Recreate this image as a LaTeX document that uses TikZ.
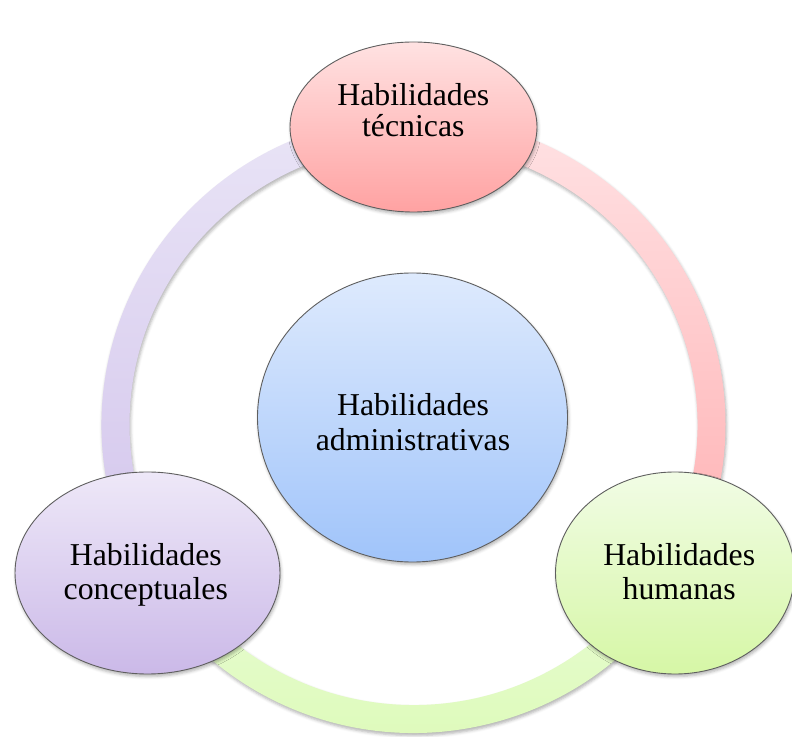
\documentclass[tikz,border=0pt]{standalone}
\usepackage{fontspec}
\setmainfont{Liberation Serif}
\usetikzlibrary{shapes.geometric,shadows.blur,calc}
\definecolor{tecTop}{RGB}{255,226,226}
\definecolor{tecBot}{RGB}{255,162,162}
\definecolor{admTop}{RGB}{222,234,253}
\definecolor{admBot}{RGB}{160,196,250}
\definecolor{conTop}{RGB}{238,232,248}
\definecolor{conBot}{RGB}{203,185,232}
\definecolor{humTop}{RGB}{241,252,229}
\definecolor{humBot}{RGB}{214,247,166}
\definecolor{pinkTop}{RGB}{255,226,228}
\definecolor{pinkBot}{RGB}{255,176,178}
\definecolor{greenTop}{RGB}{232,252,212}
\definecolor{greenBot}{RGB}{220,250,182}
\definecolor{lavTop}{RGB}{233,228,246}
\definecolor{lavBot}{RGB}{211,197,236}
\definecolor{edge}{RGB}{95,95,95}
\tikzset{
  softshadow/.style={blur shadow={shadow xshift=1pt, shadow yshift=-2.5pt, shadow blur radius=3pt, shadow opacity=30}},
  ell/.style={ellipse, draw=edge, line width=0.9pt, inner sep=0pt, softshadow},
  lbl/.style={anchor=base, inner sep=0pt, font=\fontsize{31.8}{34}\selectfont}
}
\begin{document}
\begin{tikzpicture}[x=1pt,y=1pt]
\useasboundingbox (0,0) rectangle (792,736);
\clip (0,0) rectangle (792,736);
\coordinate (rc) at (413.5,311.5);
% ring segments
\path[softshadow, top color=pinkTop, bottom color=pinkBot]
  ($(rc)+(90:312 and 308.5)$) arc[start angle=90, end angle=-30, x radius=312, y radius=308.5]
  -- ++(150:28) arc[start angle=-30, end angle=90, x radius=284, y radius=280.5] -- cycle;
\path[softshadow, top color=greenTop, bottom color=greenBot]
  ($(rc)+(-30:312 and 308.5)$) arc[start angle=-30, end angle=-150, x radius=312, y radius=308.5]
  -- ++(30:28) arc[start angle=-150, end angle=-30, x radius=284, y radius=280.5] -- cycle;
\path[softshadow, top color=lavTop, bottom color=lavBot]
  ($(rc)+(210:312 and 308.5)$) arc[start angle=210, end angle=90, x radius=312, y radius=308.5]
  -- ++(270:28) arc[start angle=90, end angle=210, x radius=284, y radius=280.5] -- cycle;
% ellipses
\node[ell, minimum width=310pt, minimum height=289pt, top color=admTop, bottom color=admBot] (adm) at (412.5,318.5) {};
\node[ell, minimum width=247pt, minimum height=170pt, top color=tecTop, bottom color=tecBot] (tec) at (413.5,609) {};
\node[ell, minimum width=265pt, minimum height=202pt, top color=conTop, bottom color=conBot] (con) at (147.5,163) {};
\node[ell, minimum width=239pt, minimum height=202pt, top color=humTop, bottom color=humBot] (hum) at (675,163) {};
% labels
\node[lbl] (tec1) at (413.3,630) {Habilidades};
\node[lbl] (tec2) at (413.3,599) {técnicas};
\node[lbl] (adm1) at (413,320) {Habilidades};
\node[lbl] (adm2) at (413,285) {administrativas};
\node[lbl] (con1) at (145.8,170) {Habilidades};
\node[lbl] (con2) at (145.8,136.7) {conceptuales};
\node[lbl] (hum1) at (679.2,170) {Habilidades};
\node[lbl] (hum2) at (679.2,136) {humanas};
\end{tikzpicture}
\end{document}
